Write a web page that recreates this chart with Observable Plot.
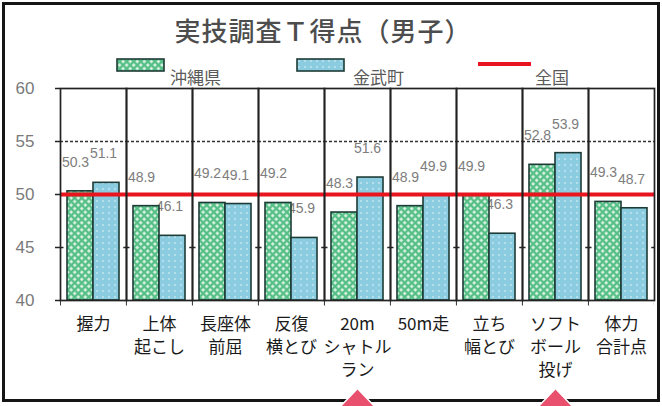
<!DOCTYPE html>
<html>
<head>
<meta charset="utf-8">
<script src="https://cdn.jsdelivr.net/npm/d3@7"></script>
<script src="https://cdn.jsdelivr.net/npm/@observablehq/plot@0.6"></script>
<style>
  body { margin: 0; background: #fff; }
  #wrap { position: relative; width: 662px; height: 406px; overflow: hidden; font-family: "Noto Sans CJK JP", sans-serif; background: #fff; }
  #border { position: absolute; left: 2px; top: 2px; width: 658px; height: 400px; border: 3px solid #151515; box-sizing: border-box; }
  #title { position: absolute; left: 0; width: 646px; top: 17px; text-align: center; font-size: 26px; line-height: 1; color: #4d4d4d; letter-spacing: 1px; font-weight: 500; }
  .legtext { position: absolute; font-size: 17px; line-height: 1; color: #5a5a5a; }
  .sw { position: absolute; }
  #chart { position: absolute; left: 0; top: 0; }
</style>
</head>
<body>
<svg width="0" height="0" style="position:absolute">
  <defs>
    <pattern id="pGreen" width="5" height="5" patternUnits="userSpaceOnUse" patternTransform="rotate(45)">
      <rect width="5" height="5" fill="#56bf86"></rect>
      <rect x="1.2" y="1.2" width="2.6" height="2.6" fill="#e8f8ee"></rect>
    </pattern>
    <pattern id="pBlue" width="6" height="6" patternUnits="userSpaceOnUse">
      <rect width="6" height="6" fill="#8ccce0"></rect>
      <circle cx="3" cy="3" r="0.8" fill="#ffffff" fill-opacity="0.8"></circle>
    </pattern>
  </defs>
</svg>
<div id="wrap">
  <div id="border"></div>
  <div id="title"></div>
  <div id="legend"></div>
  <div id="chart"></div>
</div>
<script>
// ---- data ----
const categories = ["握力", "上体起こし", "長座体前屈", "反復横とび", "20mシャトルラン", "50m走", "立ち幅とび", "ソフトボール投げ", "体力合計点"];
const tickLabels = ["握力", "上体\n起こし", "長座体\n前屈", "反復\n横とび", "20m\nシャトル\nラン", "50m走", "立ち\n幅とび", "ソフト\nボール\n投げ", "体力\n合計点"];
const okinawa = [50.3, 48.9, 49.2, 49.2, 48.3, 48.9, 49.9, 52.8, 49.3];
const kin = [51.1, 46.1, 49.1, 45.9, 51.6, 49.9, 46.3, 53.9, 48.7];
const national = 50;
const seriesNames = ["沖縄県", "金武町", "全国"];
const yTicks = [40, 45, 50, 55, 60];
const highlighted = ["20mシャトルラン", "ソフトボール投げ"];
const titleText = "実技調査Ｔ得点（男子）";

// ---- table ----
const rows = [];
categories.forEach((c, i) => {
  rows.push({category: c, series: seriesNames[0], value: okinawa[i]});
  rows.push({category: c, series: seriesNames[1], value: kin[i]});
});
const fills = {[seriesNames[0]]: "url(#pGreen)", [seriesNames[1]]: "url(#pBlue)"};

document.getElementById("title").textContent = titleText;

// legend
const legend = document.getElementById("legend");
function swatch(left, fill) {
  const s = document.createElementNS("http://www.w3.org/2000/svg", "svg");
  s.setAttribute("class", "sw");
  s.setAttribute("width", 50); s.setAttribute("height", 15);
  s.style.left = left + "px"; s.style.top = "58px";
  s.innerHTML = `<rect x="1" y="1" width="47" height="12" fill="${fill}" stroke="#1d3b36" stroke-width="1.6"></rect>`;
  legend.appendChild(s);
}
function legText(left, t) {
  const d = document.createElement("div");
  d.className = "legtext"; d.style.left = left + "px"; d.style.top = "68px"; d.textContent = t;
  legend.appendChild(d);
}
swatch(116, fills[seriesNames[0]]);
legText(170, seriesNames[0]);
swatch(296, fills[seriesNames[1]]);
legText(353, seriesNames[1]);
const redLine = document.createElement("div");
redLine.style.cssText = "position:absolute;left:478px;top:62px;width:53px;height:4px;background:#e8141e;";
legend.appendChild(redLine);
legText(535, seriesNames[2]);

// wide marker triangle (apex up, anchored at base centre)
const wideTriangle = {
  draw(context, size) {
    const h = Math.sqrt(size) / 1.4;
    context.moveTo(0, -h);
    context.lineTo(h * 1.05, 0.1 * h);
    context.lineTo(-h * 1.05, 0.1 * h);
    context.closePath();
  }
};

const plot = Plot.plot({
  width: 662,
  height: 406,
  marginTop: 88,
  marginBottom: 106,
  marginLeft: 56,
  marginRight: 5,
  style: {background: "transparent", fontFamily: "'Noto Sans CJK JP', sans-serif", overflow: "visible"},
  fx: {domain: categories, padding: 0, axis: null, label: null},
  x: {domain: seriesNames.slice(0, 2), paddingInner: 0, paddingOuter: 0.26, axis: null, label: null},
  y: {domain: [40, 60], axis: null, label: null},
  marks: [
    Plot.text(rows.filter(d => d.series === seriesNames[0]), {
      fx: "category", x: "series", y: "value", text: d => d.value.toFixed(1),
      dy: -29, dx: -5, fill: "#7d7d7d", fontSize: 14, fontFamily: "Liberation Sans"
    }),
    Plot.text(rows.filter(d => d.series === seriesNames[1]), {
      fx: "category", x: "series", y: "value", text: d => d.value.toFixed(1),
      dy: -29, dx: -3, fill: "#7d7d7d", fontSize: 14, fontFamily: "Liberation Sans"
    }),
    Plot.barY(rows, {
      fx: "category", x: "series", y1: 40, y2: "value",
      fill: d => fills[d.series], stroke: "#1d3b36", strokeWidth: 1.6
    }),
    Plot.ruleY([55], {stroke: "#333", strokeWidth: 1.3, strokeDasharray: "3,2"}),
    Plot.ruleY([45], {stroke: "#222", strokeWidth: 1.5, strokeDasharray: "3.5,59.78,3.5,0"}),
    Plot.ruleY([40], {stroke: "#222", strokeWidth: 5, dy: 2.5, strokeDasharray: "0.85,65.08,0.85,0"}),
    Plot.ruleY([national], {stroke: "#e8141e", strokeWidth: 4}),
    Plot.frame({stroke: "#222", strokeWidth: 1.7}),
    Plot.axisY({ticks: yTicks, tickSize: 5, stroke: "#222", strokeWidth: 1.5, tickFormat: () => "", label: null}),
    Plot.axisY({ticks: yTicks, tickSize: 0, tickPadding: 26, fill: "#7a7a7a", fontSize: 17, fontFamily: "Liberation Sans", label: null}),
    Plot.axisFx({anchor: "bottom", tickSize: 0, tickPadding: 13, fontSize: 17, fill: "#1a1a1a", lineHeight: 1.36, label: null,
      tickFormat: d => tickLabels[categories.indexOf(d)]}),
    Plot.dot(highlighted, {fx: d => d, y: 29.9, symbol: wideTriangle, r: 15, fill: "#e8506e", stroke: "#fff", strokeWidth: 1.5})
  ]
});
document.getElementById("chart").appendChild(plot);
</script>
</body>
</html>
